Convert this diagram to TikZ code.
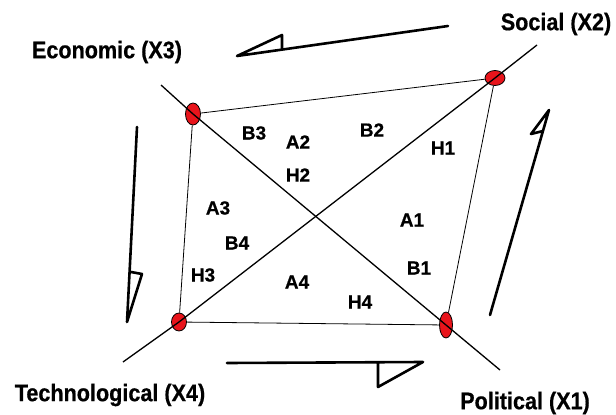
\documentclass[tikz,border=0pt]{standalone}
\usepackage{fontspec}
\setmainfont{Liberation Sans}
\newfontfamily\tagfont[FakeStretch=0.9,FakeBold=0.6]{Liberation Sans Bold}
\newfontfamily\areafont[FakeBold=0.6]{Liberation Sans Bold}
\usetikzlibrary{shapes.geometric}
\definecolor{dotRed}{HTML}{E8141B}

\tikzset{
  factor/.style={ellipse,draw=black,fill=dotRed,line width=0.8pt,inner sep=0pt},
  axisline/.style={line width=1.3pt},
  edgeline/.style={line width=0.8pt},
  bigtag/.style={font=\tagfont\fontsize{24}{28}\selectfont},
  areatag/.style={font=\areafont\fontsize{19}{22}\selectfont},
  flow/.style={line width=2.6pt,line join=round,line cap=round}
}

\begin{document}
\begin{tikzpicture}[x=1pt,y=-1pt]
  \useasboundingbox (0,0) rectangle (616,415);

  % the four factors
  \node[factor,minimum width=15,minimum height=22] (x3) at (193,114) {};
  \node[factor,minimum width=20,minimum height=15] (x2) at (495,78) {};
  \node[factor,minimum width=15,minimum height=18] (x4) at (179,322) {};
  \node[factor,minimum width=13,minimum height=26] (x1) at (446,325) {};

  % free ends of the two diagonals
  \coordinate (e3) at (161,85);
  \coordinate (e1) at (500,370);
  \coordinate (e4) at (123,362);
  \coordinate (e2) at (537,45);

  % outline
  \draw[edgeline] (x3) -- (x2) -- (x1) -- (x4) -- (x3);
  % diagonals
  \draw[axisline] (e3) -- (x3.center) -- (x1.center) -- (e1);
  \draw[axisline] (e4) -- (x4.center) -- (x2.center) -- (e2);

  % factor names
  \node[bigtag] (n3) at (107,52) {Economic (X3)};
  \node[bigtag] (n2) at (556,24) {Social (X2)};
  \node[bigtag] (n4) at (110,395) {Technological (X4)};
  \node[bigtag] (n1) at (525,403) {Political (X1)};

  % areas
  \node[areatag] (a1) at (412,220) {A1};
  \node[areatag] (a2) at (298,142) {A2};
  \node[areatag] (a3) at (218,208) {A3};
  \node[areatag] (a4) at (297,282) {A4};
  \node[areatag] (b1) at (419,268) {B1};
  \node[areatag] (b2) at (372,130) {B2};
  \node[areatag] (b3) at (254,133) {B3};
  \node[areatag] (b4) at (237,243) {B4};
  \node[areatag] (h1) at (443,148) {H1};
  \node[areatag] (h2) at (298,175) {H2};
  \node[areatag] (h3) at (203,275) {H3};
  \node[areatag] (h4) at (360,302) {H4};

  % rotation arrows
  \draw[flow] (448,26) -- (237,56) -- (282,35) -- (282,49);
  \draw[flow] (490,315) -- (549,110) -- (531,134) -- (543,131);
  \draw[flow] (137,127) -- (127,322) -- (142,274) -- (131,272);
  \draw[flow] (227,363) -- (423,362) -- (378,387) -- (378,364);
\end{tikzpicture}
\end{document}
